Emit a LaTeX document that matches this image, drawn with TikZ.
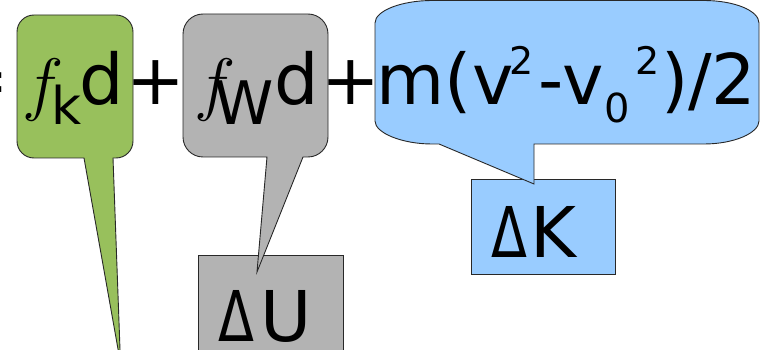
\RequirePackage{fix-cm}
\documentclass[tikz,border=0pt]{standalone}
\usepackage{fontspec}
\setmainfont{DejaVu Sans}
\usepackage{graphicx}
\definecolor{cgreen}{RGB}{152,192,92}
\definecolor{cgray}{RGB}{179,179,179}
\definecolor{cblue}{RGB}{153,204,255}
\definecolor{cline}{RGB}{40,40,40}
\begin{document}
\begin{tikzpicture}[x=1pt,y=-1pt,
  shapeline/.style={draw=cline, line width=0.9pt, line join=miter},
  txt/.style={inner sep=0pt, outer sep=0pt, anchor=base west, font=\fontsize{70}{70}\selectfont},
  subtxt/.style={txt, font=\fontsize{#1}{#1}\selectfont}]
\useasboundingbox (0,0) rectangle (764,350);
\clip (0,0) rectangle (764,350);

% target boxes (drawn first, callout tails overlap them)
\draw[shapeline, fill=cgray] (198,255) rectangle (343,362);
\draw[shapeline, fill=cblue] (471,179) rectangle (615,274);

% green callout
\draw[shapeline, fill=cgreen]
  (34,15) -- (116,15) .. controls (125.4,15) and (133,22.6) .. (133,32)
  -- (133,141) .. controls (133,150.4) and (125.4,158) .. (116,158)
  -- (113,158) -- (120.5,363) -- (84,158)
  -- (34,158) .. controls (24.6,158) and (17,150.4) .. (17,141)
  -- (17,32) .. controls (17,22.6) and (24.6,15) .. (34,15) -- cycle;

% gray callout
\draw[shapeline, fill=cgray]
  (203,14) -- (308,14) .. controls (319,14) and (328,23) .. (328,34)
  -- (328,137) .. controls (328,148) and (319,157) .. (308,157)
  -- (303,157) -- (257,272) -- (267,157)
  -- (203,157) .. controls (192,157) and (183,148) .. (183,137)
  -- (183,34) .. controls (183,23) and (192,14) .. (203,14) -- cycle;

% blue callout
\draw[shapeline, fill=cblue]
  (432,0.5) -- (704,0.5) .. controls (734,0.5) and (759,10.5) .. (759,23)
  -- (759,121) .. controls (759,133) and (734,144) .. (704,144)
  -- (534,144) -- (534,184) -- (439,144)
  -- (432,144) .. controls (402,144) and (375,133) .. (375,121)
  -- (375,23) .. controls (375,10.5) and (402,0.5) .. (432,0.5) -- cycle;

% equation text
\node[txt, anchor=base east] (eq) at (9.5,105) {=};
\node[txt] (f1) at (23,108) {$f$};
\node[subtxt=52] (k1) at (51,125) {k};
\node[txt] (d1) at (79,105) {d};
\node[txt] (p1) at (126.6,105) {+};
\node[txt] (f2) at (194,108) {$f$};
\node[subtxt=60] (w2) at (214,125) {W};
\node[txt] (d2) at (274,105) {d};
\node[txt] (p2) at (321.6,105) {+};
\node[txt] (m3) at (376.6,105) {m(v};
\node[subtxt=38] (s3) at (509,75) {2};
\node[txt] (v3) at (538.6,105) {-v};
\node[subtxt=40] (z3) at (604.4,123) {0};
\node[subtxt=38] (t3) at (635,75) {2};
\node[txt] (e3) at (661,105) {)/2};

% labels
\node[txt] (dU) at (218,341) {\scalebox{0.75}[1]{Δ}\kern7pt U};
\node[txt] (dK) at (491,258) {\scalebox{0.75}[1]{Δ}\kern4pt K};
\end{tikzpicture}
\end{document}
